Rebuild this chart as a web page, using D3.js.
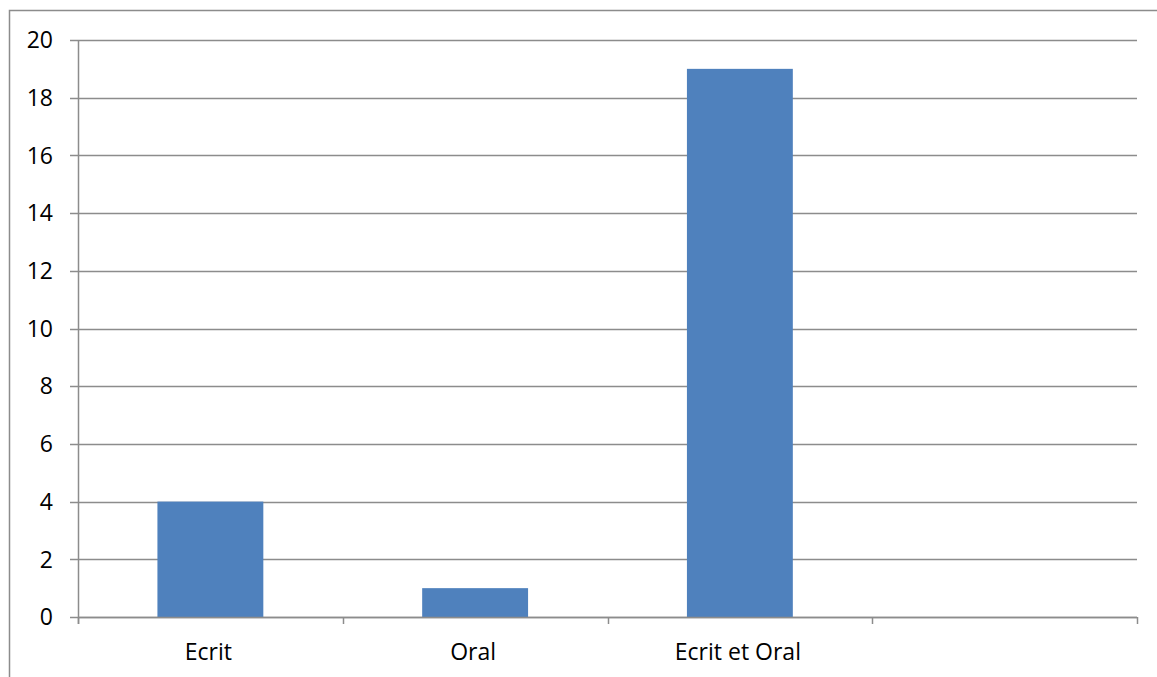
<!DOCTYPE html>
<html>
<head>
<meta charset="utf-8">
<script src="https://cdn.jsdelivr.net/npm/d3@7"></script>
<style>
  html, body { margin: 0; padding: 0; background: #fff; }
  svg { display: block; }
  text { font-family: "Open Sans", "Liberation Sans", sans-serif; fill: #000; }
</style>
</head>
<body>
<script>
// Chart values
const categories = ["Ecrit", "Oral", "Ecrit et Oral", ""];
const values = [4, 1, 19, null];
const yTicks = [0, 2, 4, 6, 8, 10, 12, 14, 16, 18, 20];

const W = 1157, H = 677;
const plot = { left: 78, right: 1137, top: 40, bottom: 617 };

const svg = d3.select("body").append("svg")
  .attr("width", W).attr("height", H);

// Outer chart frame
svg.append("rect")
  .attr("x", 9.5).attr("y", 10.5)
  .attr("width", W).attr("height", H)
  .attr("fill", "#fff")
  .attr("stroke", "#8c8c8c").attr("stroke-width", 1.5);

const x = d3.scaleBand()
  .domain(d3.range(categories.length))
  .range([plot.left, plot.right])
  .paddingInner(0.6).paddingOuter(0.3);

const xCat = d3.scaleBand()
  .domain(d3.range(categories.length))
  .range([plot.left, plot.right]);

const y = d3.scaleLinear().domain([0, 20]).range([plot.bottom, plot.top]);

// Horizontal gridlines with left tick marks
svg.append("g").selectAll("line").data(yTicks).join("line")
  .attr("x1", plot.left - 8).attr("x2", plot.right)
  .attr("y1", d => Math.round(y(d)) + 0.5).attr("y2", d => Math.round(y(d)) + 0.5)
  .attr("stroke", "#8c8c8c").attr("stroke-width", 1.5);

// Y tick labels
svg.append("g").selectAll("text").data(yTicks).join("text")
  .attr("x", 53).attr("y", d => y(d))
  .attr("dy", "0.36em")
  .attr("text-anchor", "end")
  .style("font-size", "23px")
  .text(d => d);

// Bars
svg.append("g").selectAll("rect").data(values.map((v, i) => ({ v, i })).filter(d => d.v != null)).join("rect")
  .attr("x", d => x(d.i))
  .attr("width", x.bandwidth())
  .attr("y", d => y(d.v))
  .attr("height", d => y(0) - y(d.v))
  .attr("fill", "#4f81bd");

// Y axis line
svg.append("line")
  .attr("x1", plot.left + 0.5).attr("x2", plot.left + 0.5)
  .attr("y1", plot.top).attr("y2", plot.bottom + 7)
  .attr("stroke", "#8c8c8c").attr("stroke-width", 1.5);

// X axis line and category boundary ticks
svg.append("line")
  .attr("x1", plot.left).attr("x2", plot.right)
  .attr("y1", plot.bottom + 0.5).attr("y2", plot.bottom + 0.5)
  .attr("stroke", "#8c8c8c").attr("stroke-width", 1.5);

const bounds = d3.range(categories.length + 1).map(i => i < categories.length ? xCat(i) : plot.right);
svg.append("g").selectAll("line").data(bounds).join("line")
  .attr("x1", d => Math.round(d) + 0.5).attr("x2", d => Math.round(d) + 0.5)
  .attr("y1", plot.bottom).attr("y2", plot.bottom + 7)
  .attr("stroke", "#8c8c8c").attr("stroke-width", 1.5);

// Category labels
svg.append("g").selectAll("text").data(categories).join("text")
  .attr("x", (d, i) => xCat(i) + xCat.bandwidth() / 2 - 2)
  .attr("y", 660)
  .attr("text-anchor", "middle")
  .style("font-size", "23px")
  .text(d => d);
</script>
</body>
</html>
